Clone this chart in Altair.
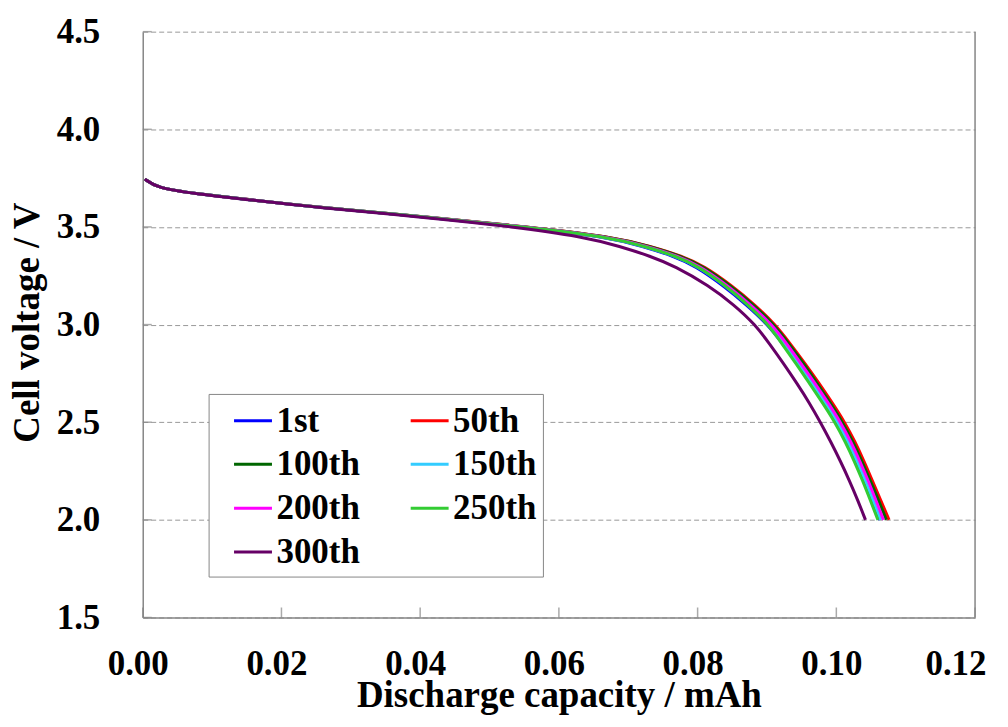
import altair as alt
import pandas as pd

SERIES = ["1st", "50th", "100th", "150th", "200th", "250th", "300th"]
COLORS = ["#0000FF", "#FF0000", "#006600", "#33CCFF", "#FF00FF", "#33CC33", "#660066"]
# legend entries laid out column by column so rows read 1st/50th, 100th/150th, ...
LEGEND_ORDER = ["1st", "100th", "200th", "300th", "50th", "150th", "250th"]

# Cell voltage levels (V) shared by all cycles
VOLTAGE = [3.745, 3.70, 3.67, 3.64, 3.60, 3.55, 3.50, 3.45, 3.40, 3.35, 3.30, 3.20,
           3.10, 3.00, 2.90, 2.80, 2.70, 2.60, 2.50, 2.40, 2.30, 2.20, 2.10, 2.00]

# Discharge capacity (mAh) at each voltage level, per cycle
CAP_1ST = [0.0003, 0.0020, 0.0077, 0.0153, 0.0253, 0.0412, 0.0550, 0.0668, 0.0722, 0.0766, 0.0797, 0.0837,
           0.0871, 0.0901, 0.0923, 0.0944, 0.0964, 0.0983, 0.1001, 0.1016, 0.1029, 0.1041, 0.1052, 0.1063]
CAP_50TH = [0.0003, 0.0020, 0.0077, 0.0153, 0.0254, 0.0415, 0.0556, 0.0677, 0.0733, 0.0778, 0.0809, 0.0849,
            0.0883, 0.0912, 0.0934, 0.0955, 0.0975, 0.0994, 0.1012, 0.1027, 0.1040, 0.1052, 0.1064, 0.1076]
CAP_100TH = [0.0003, 0.0020, 0.0077, 0.0153, 0.0254, 0.0415, 0.0556, 0.0676, 0.0732, 0.0776, 0.0807, 0.0847,
             0.0881, 0.0910, 0.0932, 0.0953, 0.0972, 0.0991, 0.1009, 0.1024, 0.1037, 0.1049, 0.1061, 0.1072]
CAP_150TH = [0.0003, 0.0020, 0.0077, 0.0153, 0.0253, 0.0413, 0.0551, 0.0670, 0.0725, 0.0769, 0.0800, 0.0840,
             0.0874, 0.0903, 0.0925, 0.0946, 0.0965, 0.0984, 0.1002, 0.1017, 0.1030, 0.1042, 0.1053, 0.1064]
CAP_200TH = [0.0003, 0.0020, 0.0077, 0.0153, 0.0254, 0.0414, 0.0553, 0.0673, 0.0728, 0.0772, 0.0803, 0.0843,
             0.0877, 0.0907, 0.0929, 0.0949, 0.0969, 0.0988, 0.1006, 0.1021, 0.1034, 0.1046, 0.1057, 0.1068]
CAP_250TH = [0.0003, 0.0020, 0.0077, 0.0153, 0.0253, 0.0413, 0.0551, 0.0670, 0.0725, 0.0769, 0.0800, 0.0840,
             0.0873, 0.0902, 0.0922, 0.0942, 0.0961, 0.0980, 0.0998, 0.1013, 0.1026, 0.1038, 0.1049, 0.1060]
CAP_300TH = [0.0003, 0.0020, 0.0076, 0.0151, 0.0250, 0.0405, 0.0537, 0.0635, 0.0689, 0.0732, 0.0767, 0.0816,
             0.0853, 0.0883, 0.0904, 0.0924, 0.0943, 0.0961, 0.0977, 0.0992, 0.1006, 0.1019, 0.1031, 0.1042]

X_TICKS = [0.0, 0.02, 0.04, 0.06, 0.08, 0.10, 0.12]
Y_TICKS = [1.5, 2.0, 2.5, 3.0, 3.5, 4.0, 4.5]

X_TITLE = "Discharge capacity / mAh"
Y_TITLE = "Cell voltage / V"

ALL_CAPS = [CAP_1ST, CAP_50TH, CAP_100TH, CAP_150TH, CAP_200TH, CAP_250TH, CAP_300TH]
rows = []
for name, caps in zip(SERIES, ALL_CAPS):
    for i, (c, v) in enumerate(zip(caps, VOLTAGE)):
        rows.append({"cycle": name, "cap": c, "volt": v, "idx": i})
df = pd.DataFrame(rows)

W, H = 834, 587
FONT = "Liberation Serif"
AXC = "#868686"

xscale = alt.Scale(domain=[0, 0.12], nice=False, zero=False)
yscale = alt.Scale(domain=[1.5, 4.5], nice=False, zero=False)

lines = alt.Chart(df).mark_line(strokeWidth=3, interpolate="basis").encode(
    x=alt.X("cap:Q", scale=xscale, title=X_TITLE,
            axis=alt.Axis(values=X_TICKS, format=".2f", grid=False, ticks=False,
                          domainColor=AXC, domainWidth=1.5,
                          labelFont=FONT, labelFontSize=35, labelFontWeight="bold",
                          labelColor="black", labelPadding=29,
                          labelAlign={"condition": {"test": "datum.value >= 0.119", "value": "right"}, "value": "center"},
                          labelOffset={"condition": {"test": "datum.value >= 0.119", "value": 11}, "value": -5},
                          titleFont=FONT, titleFontSize=37, titleFontWeight="bold", titleColor="black",
                          titleBaseline="alphabetic", titleY=89)),
    y=alt.Y("volt:Q", scale=yscale, title=Y_TITLE,
            axis=alt.Axis(values=Y_TICKS, format=".1f", grid=True, gridColor="#999999",
                          gridDash=[5, 3], gridWidth=1, ticks=False,
                          domainColor=AXC, domainWidth=1.5,
                          labelFont=FONT, labelFontSize=35, labelFontWeight="bold",
                          labelColor="black", labelPadding=43,
                          titleFont=FONT, titleFontSize=37, titleFontWeight="bold", titleColor="black",
                          titleBaseline="alphabetic", titleAngle=270, titleAlign="center",
                          titleX=-104, titleY=291)),
    color=alt.Color("cycle:N", scale=alt.Scale(domain=SERIES, range=COLORS), sort=SERIES,
                    legend=alt.Legend(title=None, orient="none", legendX=66, legendY=363, columns=2,
                                      values=LEGEND_ORDER,
                                      symbolType="stroke", symbolSize=1444, symbolStrokeWidth=3,
                                      labelFont=FONT, labelFontSize=35, labelFontWeight="bold",
                                      labelColor="black", labelOffset=3, labelLimit=300,
                                      fillColor="white", strokeColor=AXC, padding=6,
                                      symbolOffset=18, rowPadding=5, columnPadding=31)),
    order=alt.Order("idx:Q"),
)

# right-hand frame line of the plot area
frame = alt.Chart(pd.DataFrame({"a": [0]})).mark_rule(color=AXC, strokeWidth=1.5).encode(
    x=alt.XDatum(0.12, scale=xscale, title=X_TITLE),
    y=alt.YDatum(1.5, scale=yscale, title=Y_TITLE),
    y2=alt.Y2Datum(4.5),
)

# inward tick marks on the bottom and left axes
xticks = alt.Chart(pd.DataFrame({"t": X_TICKS})).mark_tick(
    orient="vertical", size=10, thickness=1.5, color=AXC, yOffset=-5
).encode(
    x=alt.X("t:Q", scale=xscale, title=X_TITLE),
    y=alt.YDatum(1.5, scale=yscale, title=Y_TITLE),
)
yticks = alt.Chart(pd.DataFrame({"t": Y_TICKS})).mark_tick(
    orient="horizontal", size=9, thickness=1.5, color=AXC, xOffset=4.5
).encode(
    y=alt.Y("t:Q", scale=yscale, title=Y_TITLE),
    x=alt.XDatum(0.0, scale=xscale, title=X_TITLE),
)

chart = alt.layer(lines, frame, xticks, yticks).properties(
    width=W, height=H,
    padding={"left": 135, "top": 23, "right": 25, "bottom": 100},
    autosize=alt.AutoSizeParams(type="none"),
    background="white",
).configure_view(strokeWidth=0)

chart.save("out.html", embed_options={"renderer": "svg", "actions": False})
